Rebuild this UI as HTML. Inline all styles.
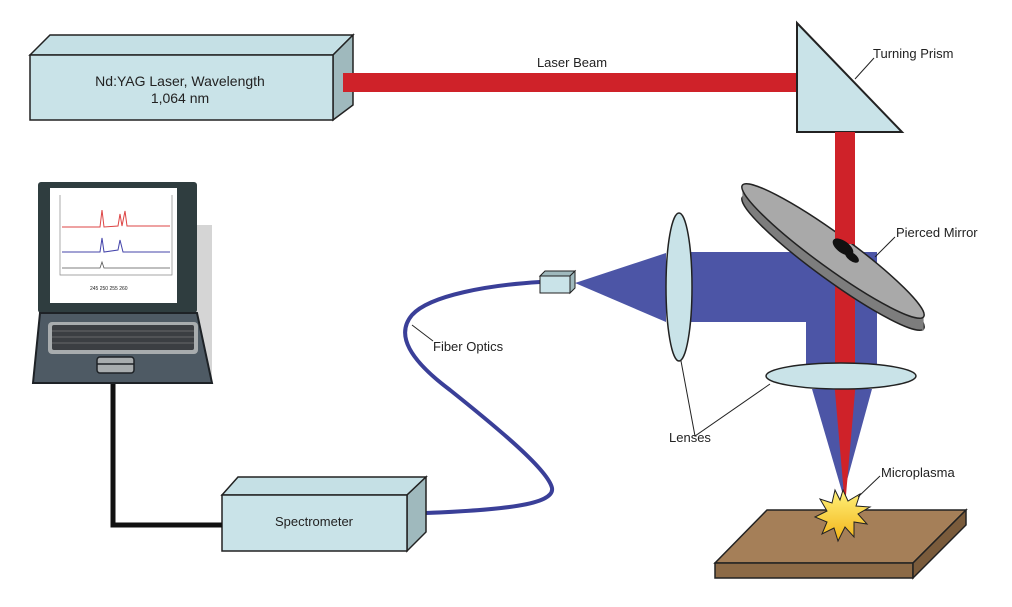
<!DOCTYPE html>
<html><head><meta charset="utf-8"><style>
html,body{margin:0;padding:0;background:#fff;}
svg{display:block;}
text{font-family:"Liberation Sans",sans-serif;fill:#222;}
</style></head><body>
<svg width="1012" height="607" viewBox="0 0 1012 607" xmlns="http://www.w3.org/2000/svg">
<polygon points="30,55 50,35 353,35 333,55" fill="#c5e0e5" stroke="#222" stroke-width="1.5"/>
<polygon points="333,55 353,35 353,105 333,120" fill="#9fb9bd" stroke="#222" stroke-width="1.5"/>
<rect x="30" y="55" width="303" height="65" fill="#c9e3e8" stroke="#222" stroke-width="1.5"/>
<text x="180" y="86" font-size="14" text-anchor="middle">Nd:YAG Laser, Wavelength</text>
<text x="180" y="103" font-size="14" text-anchor="middle">1,064 nm</text>
<rect x="343" y="73" width="455" height="19" fill="#cf2229"/>
<text x="572" y="67" font-size="13" text-anchor="middle">Laser Beam</text>
<polygon points="797,23 797,132 902,132" fill="#c9e3e8" stroke="#222" stroke-width="2"/>
<line x1="855" y1="79" x2="874" y2="58" stroke="#222" stroke-width="1"/>
<text x="873" y="58" font-size="13">Turning Prism</text>
<polygon points="575,283 666,253 666,322" fill="#4c55a6"/>
<rect x="680" y="252" width="140" height="70" fill="#4c55a6"/>
<rect x="806" y="252" width="71" height="125" fill="#4c55a6"/>
<polygon points="812,389 872,389 843,495" fill="#4c55a6"/>
<rect x="835" y="132" width="20" height="248" fill="#cf2229"/>
<polygon points="834,380 856,380 846,495 844,495" fill="#cf2229"/>
<ellipse cx="833" cy="263" rx="112" ry="17" transform="rotate(36 833 263)" fill="#7d7d7d" stroke="#222" stroke-width="1.5"/>
<polygon points="742.4,185.2 923.6,316.8 923.6,330.8 742.4,199.2" fill="#7d7d7d"/>
<ellipse cx="833" cy="251" rx="112" ry="17" transform="rotate(36 833 251)" fill="#a9a9a9" stroke="#222" stroke-width="1.5"/>
<rect x="835" y="132" width="20" height="112" fill="#cf2229"/>
<ellipse cx="843" cy="247" rx="12" ry="6" transform="rotate(36 843 247)" fill="#111"/>
<ellipse cx="852" cy="257" rx="8" ry="4" transform="rotate(36 852 257)" fill="#111"/>
<line x1="875" y1="257" x2="895" y2="237" stroke="#222" stroke-width="1"/>
<text x="896" y="237" font-size="13">Pierced Mirror</text>
<ellipse cx="679" cy="287" rx="13" ry="74" fill="#c9e3e8" stroke="#222" stroke-width="1.5"/>
<ellipse cx="841" cy="376" rx="75" ry="13" fill="#c9e3e8" stroke="#222" stroke-width="1.5"/>
<polyline points="681,361 695,436 770,384" fill="none" stroke="#222" stroke-width="1"/>
<text x="669" y="442" font-size="13">Lenses</text>
<polygon points="767,510 966,510 913,563 715,563" fill="#a57f58" stroke="#222" stroke-width="1.5"/>
<polygon points="715,563 913,563 913,578 715,578" fill="#8c6a46" stroke="#222" stroke-width="1.5"/>
<polygon points="913,563 966,510 966,525 913,578" fill="#7a5b3b" stroke="#222" stroke-width="1.5"/>
<defs><linearGradient id="g" x1="0" y1="0" x2="0" y2="1"><stop offset="0" stop-color="#fff27a"/><stop offset="1" stop-color="#f2b318"/></linearGradient></defs>
<polygon points="843,490 848,501 860,494 856,506 870,507 858,514 867,524 854,522 854,537 845,527 838,541 834,528 822,534 827,522 815,517 827,511 820,499 832,503 835,490 840,500" fill="url(#g)" stroke="#222" stroke-width="1"/>
<line x1="858" y1="497" x2="880" y2="476" stroke="#222" stroke-width="1"/>
<text x="881" y="477" font-size="13">Microplasma</text>
<path d="M426,513 C500,510 555,505 552,488 C548,470 500,430 450,390 C410,360 395,335 412,315 C430,295 490,285 540,282" fill="none" stroke="#3a3f98" stroke-width="4"/>
<polygon points="540,276 545,271 575,271 570,276" fill="#9fb9bd" stroke="#222" stroke-width="1"/>
<polygon points="570,276 575,271 575,288 570,293" fill="#9fb9bd" stroke="#222" stroke-width="1"/>
<rect x="540" y="276" width="30" height="17" fill="#c9e3e8" stroke="#222" stroke-width="1"/>
<line x1="412" y1="325" x2="433" y2="341" stroke="#222" stroke-width="1"/>
<text x="433" y="351" font-size="13">Fiber Optics</text>
<polygon points="222,495 238,477 426,477 407,495" fill="#c5e0e5" stroke="#222" stroke-width="1.5"/>
<polygon points="407,495 426,477 426,532 407,551" fill="#9fb9bd" stroke="#222" stroke-width="1.5"/>
<rect x="222" y="495" width="185" height="56" fill="#c9e3e8" stroke="#222" stroke-width="1.5"/>
<text x="314" y="526" font-size="13" text-anchor="middle">Spectrometer</text>
<polyline points="113,380 113,525 222,525" fill="none" stroke="#111" stroke-width="5"/>
<rect x="197" y="225" width="15" height="155" fill="#d5d5d5"/>
<rect x="38" y="182" width="159" height="131" rx="3" fill="#2f3d3f"/>
<rect x="50" y="188" width="127" height="115" fill="#fff"/>
<polyline points="60,195 60,275 172,275 172,195" fill="none" stroke="#888" stroke-width="0.7"/>
<polyline points="62,227 100,227 102,210 104,227 118,226 120,214 122,226 125,211 127,226 170,226" fill="none" stroke="#d44" stroke-width="1"/>
<polyline points="62,252 100,252 102,238 104,252 118,250 120,240 123,252 170,252" fill="none" stroke="#44a" stroke-width="1"/>
<polyline points="62,268 100,268 102,262 104,268 170,268" fill="none" stroke="#555" stroke-width="0.8"/>
<text x="90" y="290" font-size="5" fill="#555">245 250 255 260</text>
<polygon points="40,313 197,313 212,383 33,383" fill="#4e5a64" stroke="#1e2226" stroke-width="2"/>
<rect x="48" y="322" width="150" height="32" rx="4" fill="#a8acae"/>
<rect x="52" y="325" width="142" height="25" rx="2" fill="#3b3e42"/>
<g stroke="#777" stroke-width="0.8"><line x1="52" y1="331" x2="194" y2="331"/><line x1="52" y1="337" x2="194" y2="337"/><line x1="52" y1="343" x2="194" y2="343"/></g>
<rect x="97" y="357" width="37" height="16" rx="3" fill="#a8acae" stroke="#1e2226" stroke-width="1.5"/>
<line x1="97" y1="364" x2="134" y2="364" stroke="#1e2226" stroke-width="1.5"/>
</svg>
</body></html>
